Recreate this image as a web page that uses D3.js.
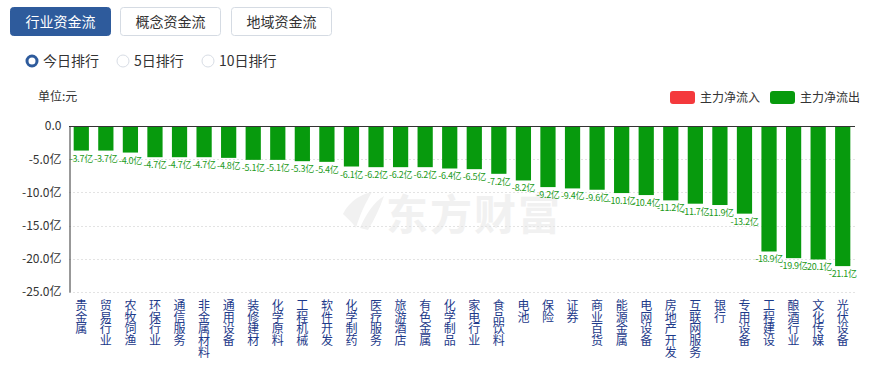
<!DOCTYPE html>
<html><head><meta charset="utf-8">
<script src="https://cdn.jsdelivr.net/npm/d3@7"></script>
<style>
html,body{margin:0;padding:0;background:#fff;}
svg{display:block;font-family:"Microsoft YaHei","Noto Sans CJK SC",sans-serif;}
</style></head>
<body>
<svg id="c" width="880" height="367"></svg>
<script>
const categories = ["贵金属","贸易行业","农牧饲渔","环保行业","通信服务","非金属材料","通用设备","装修建材","化学原料","工程机械","软件开发","化学制药","医疗服务","旅游酒店","有色金属","化学制品","家电行业","食品饮料","电池","保险","证券","商业百货","能源金属","电网设备","房地产开发","互联网服务","银行","专用设备","工程建设","酿酒行业","文化传媒","光伏设备"];
const values = [-3.7,-3.7,-4.0,-4.7,-4.7,-4.7,-4.8,-5.1,-5.1,-5.3,-5.4,-6.1,-6.2,-6.2,-6.2,-6.4,-6.5,-7.2,-8.2,-9.2,-9.4,-9.6,-10.1,-10.4,-11.2,-11.7,-11.9,-13.2,-18.9,-19.9,-20.1,-21.1];
const yTicks = [0,-5,-10,-15,-20,-25];
const tabs = ["行业资金流","概念资金流","地域资金流"];
const radios = ["今日排行","5日排行","10日排行"];
const legendItems = [{name:"主力净流入",color:"#f4393c"},{name:"主力净流出",color:"#079a0d"}];

const svg = d3.select("#c");
const font = '"Microsoft YaHei","Noto Sans CJK SC",sans-serif';

// tabs
const tabX = [10,120,231];
tabs.forEach((t,i)=>{
  const g = svg.append("g");
  g.append("rect").attr("x",tabX[i]+0.5).attr("y",7.5).attr("width",100).attr("height",28).attr("rx",3)
    .attr("fill", i===0?"#2e5b9c":"#fff").attr("stroke", i===0?"#2e5b9c":"#d5dbe3");
  g.append("text").attr("x",tabX[i]+50.5).attr("y",26.5).attr("text-anchor","middle")
    .attr("font-size",14).attr("fill", i===0?"#fff":"#333").text(t);
});

// radios
const radioX = [26,117,202];
radios.forEach((t,i)=>{
  if(i===0){
    svg.append("circle").attr("cx",radioX[i]+6).attr("cy",61).attr("r",5).attr("fill","#fff").attr("stroke","#2e5b9c").attr("stroke-width",3);
  } else {
    svg.append("circle").attr("cx",radioX[i]+6).attr("cy",61).attr("r",6).attr("fill","#fff").attr("stroke","#d8dde5").attr("stroke-width",1);
  }
  svg.append("text").attr("x",radioX[i]+17).attr("y",66).attr("font-size",14).attr("fill","#333").text(t);
});

// chart area
const x0 = 69, x1 = 855, yTop = 126, yBot = 292;
const x = d3.scaleBand().domain(categories).range([x0,x1]).paddingInner(0.38).paddingOuter(0.19);
const y = d3.scaleLinear().domain([-25,0]).range([yBot,yTop]);

// unit
svg.append("text").attr("x",38).attr("y",101).attr("font-size",12).attr("fill","#333").text("单位:元");

// legend
legendItems.forEach((d,i)=>{
  const lx = [670,770][i];
  svg.append("rect").attr("x",lx).attr("y",91).attr("width",25).attr("height",13).attr("rx",3).attr("fill",d.color);
  svg.append("text").attr("x",lx+30).attr("y",102).attr("font-size",12).attr("fill","#333").text(d.name);
});

// watermark
const wm = svg.append("g").attr("fill","#f1f1f1");
wm.append("path").attr("d","M343,214 C350,200 362,194 372,192 C366,202 360,214 356,228 C352,222 347,218 343,214 Z");
wm.append("path").attr("d","M360,228 C366,214 374,202 384,196 C380,208 374,220 368,230 Z");
wm.append("text").attr("x",386).attr("y",230).attr("font-size",42).attr("font-weight","bold").attr("letter-spacing",2).text("东方财富");

// gridlines
svg.append("g").selectAll("line").data(yTicks.filter(d=>d!==0)).join("line")
  .attr("x1",x0).attr("x2",x1).attr("y1",d=>Math.round(y(d))+0.5).attr("y2",d=>Math.round(y(d))+0.5)
  .attr("stroke","#e3e3e3").attr("stroke-dasharray","2,2");

// y axis
const yAxis = d3.axisLeft(y).tickValues(yTicks).tickSize(0).tickPadding(8)
  .tickFormat(d=> d===0 ? "0.0" : d.toFixed(1)+"亿");
const ga = svg.append("g").attr("transform",`translate(${x0+0.5},0)`).call(yAxis);
ga.select(".domain").attr("stroke","#333");
ga.selectAll("text").attr("font-size",12).attr("fill","#333").attr("font-family",font);

// bars
svg.append("g").selectAll("rect").data(values).join("rect")
  .attr("x",(d,i)=>x(categories[i])).attr("width",x.bandwidth())
  .attr("y",d=>y(Math.max(0,d))).attr("height",d=>Math.abs(y(d)-y(0)))
  .attr("fill",d=>d>=0?"#f4393c":"#079a0d");

// zero line
svg.append("line").attr("x1",x0).attr("x2",x1).attr("y1",y(0)+0.5).attr("y2",y(0)+0.5).attr("stroke","#333");

// value labels
svg.append("g").selectAll("text").data(values).join("text")
  .attr("x",(d,i)=>x(categories[i])+x.bandwidth()/2).attr("y",d=>y(d)+11)
  .attr("text-anchor","middle").attr("font-size",9).attr("fill","#1a9a20")
  .attr("letter-spacing",-0.3)
  .text(d=>d.toFixed(1)+"亿");

// x labels vertical
const gx = svg.append("g");
categories.forEach((c,i)=>{
  const cx = x(categories[i])+x.bandwidth()/2;
  const t = gx.append("text").attr("text-anchor","middle").attr("font-size",12).attr("fill","#1d3a8a");
  [...c].forEach((ch,j)=>{
    t.append("tspan").attr("x",cx).attr("y",310+j*11.7).text(ch);
  });
});
</script>
</body></html>
